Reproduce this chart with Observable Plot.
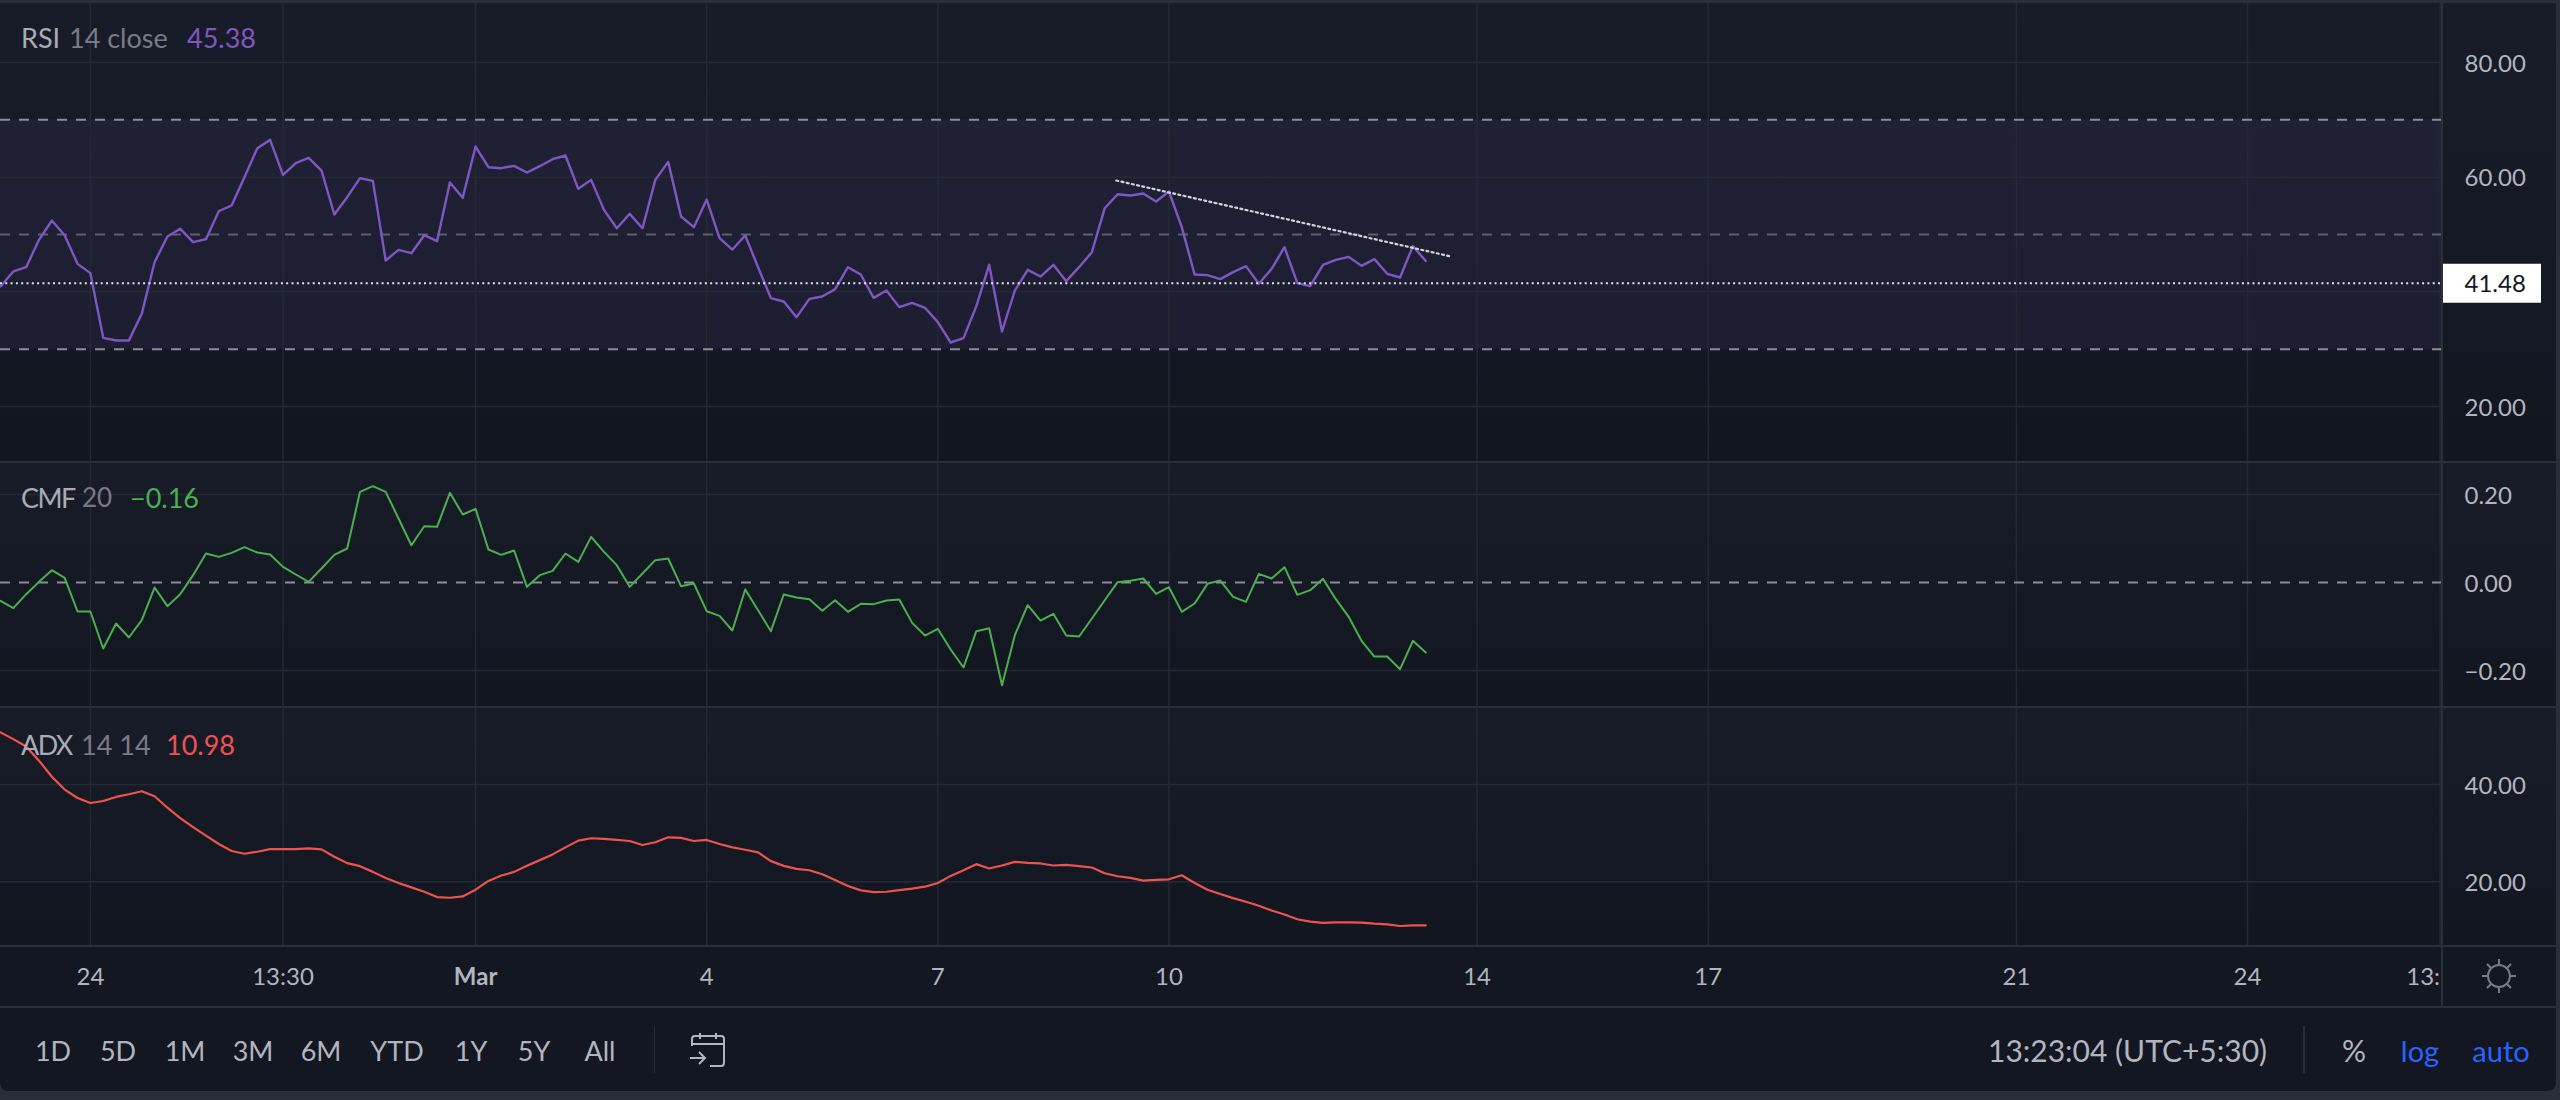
<!DOCTYPE html>
<html>
<head>
<meta charset="utf-8">
<script src="https://cdn.jsdelivr.net/npm/d3@7"></script>
<script src="https://cdn.jsdelivr.net/npm/@observablehq/plot@0.6"></script>
<style>
  html,body{margin:0;padding:0;background:#2a2e39;}
  #frame{position:relative;width:2560px;height:1100px;overflow:hidden;font-family:Lato,sans-serif;}
  #frame svg.pane{position:absolute;left:0;display:block;}
  .t{position:absolute;white-space:pre;line-height:1;transform:translateY(-50%);}
  .box{position:absolute;}
</style>
</head>
<body>
<div id="frame"></div>
<script>
const rsiValues = [40.93,43.55,44.30,49.07,52.44,49.83,44.88,43.26,31.98,31.51,31.51,36.16,45.17,49.65,50.99,48.66,49.19,54.07,55.06,60.00,65.06,66.51,60.41,62.44,63.37,61.16,53.49,56.51,59.83,59.36,45.47,47.33,46.74,49.88,48.84,59.07,56.40,65.35,61.74,61.57,61.98,60.81,61.92,63.14,63.78,57.97,59.53,54.30,51.10,53.60,51.10,59.53,62.67,53.14,51.28,56.10,49.36,47.38,49.83,44.30,38.90,38.31,35.58,38.78,39.19,40.47,44.30,43.02,38.95,40.23,37.33,38.08,37.21,34.71,31.16,31.92,37.50,44.71,33.08,40.23,43.84,42.67,44.71,41.86,44.30,46.92,54.59,57.03,56.80,57.15,55.76,57.50,51.28,43.02,42.91,42.21,43.43,44.48,41.40,44.01,47.79,41.51,40.99,44.71,45.58,46.10,44.53,45.70,43.14,42.50,47.97,45.38];
const cmfValues = [-0.0417,-0.0583,-0.0265,0.0015,0.028,0.0106,-0.0659,-0.0659,-0.15,-0.0932,-0.125,-0.0856,-0.0114,-0.0538,-0.0265,0.0167,0.0659,0.0583,0.0674,0.0803,0.0682,0.0636,0.0356,0.0182,0.0015,0.0318,0.0629,0.0773,0.2061,0.2189,0.2061,0.1455,0.0848,0.128,0.1265,0.2038,0.1545,0.1674,0.075,0.0629,0.0727,-0.0098,0.0167,0.0265,0.0659,0.047,0.1038,0.0697,0.0394,-0.0098,0.0205,0.0508,0.0545,-0.0083,-0.0023,-0.0652,-0.0758,-0.1091,-0.0159,-0.0629,-0.1106,-0.0273,-0.0341,-0.0379,-0.0644,-0.0402,-0.0667,-0.0485,-0.0492,-0.0409,-0.0386,-0.0917,-0.1205,-0.1053,-0.1523,-0.1932,-0.1106,-0.1038,-0.2333,-0.1197,-0.0515,-0.0864,-0.0712,-0.1205,-0.1227,-0.0818,-0.0402,0.0008,0.0038,0.0091,-0.0258,-0.0106,-0.0667,-0.0477,-0.003,0.0045,-0.0326,-0.0439,0.0197,0.0091,0.0348,-0.028,-0.0174,0.0083,-0.0379,-0.078,-0.1326,-0.1682,-0.1682,-0.197,-0.1326,-0.1591];
const adxValues = [50.73,49.34,47.82,44.91,41.59,38.96,37.23,36.19,36.61,37.44,37.99,38.62,37.58,35.22,33.08,31.21,29.48,27.75,26.30,25.74,26.16,26.71,26.71,26.71,26.85,26.64,25.12,23.81,23.18,22.01,20.76,19.72,18.82,17.92,16.82,16.68,16.96,18.34,20.14,21.25,22.01,23.25,24.43,25.61,27.06,28.44,28.93,28.79,28.58,28.37,27.54,28.10,29.13,29.00,28.37,28.58,27.75,27.06,26.57,26.02,24.22,23.25,22.63,22.35,21.52,20.35,19.10,18.20,17.85,17.92,18.27,18.55,18.96,19.72,21.18,22.35,23.60,22.70,23.32,24.08,23.88,23.74,23.32,23.46,23.18,22.91,21.73,21.11,20.76,20.21,20.35,20.48,21.31,19.72,18.34,17.44,16.61,15.85,15.02,14.05,13.22,12.25,11.76,11.49,11.63,11.63,11.56,11.35,11.21,10.87,11.00,10.98];

const trendBars = [86.9, 112.85];
const trendRsi = [59.42, 46.22];
const lastRsi = 41.48;

const rsiGrid = [80, 60, 40, 20];
const rsiLabels = [80, 60, 20];
const rsiLevels = [70, 50, 30];
const cmfGrid = [0.2, -0.2];
const cmfLabels = [0.2, 0, -0.2];
const adxGrid = [40, 20];

const timeTicks = [7, 22, 37, 55, 73, 91, 115, 133, 157, 175, 190];
const timeLabels = ["24", "13:30", "Mar", "4", "7", "10", "14", "17", "21", "24", "13:"];
const rangeButtons = ["1D", "5D", "1M", "3M", "6M", "YTD", "1Y", "5Y", "All"];
const rangeCenters = [53, 118, 185, 253, 321, 397, 471, 534, 600];

const GRID = "#252934", TEXT = "#b2b5be", DIM = "#787b86", LEVEL = "#8b8d97";
const barWidth = 12.84, plotW = 2442, W = 2560;
const xDomain = [0, plotW / barWidth];
const px = p => p / barWidth;
const fmt = d3.format(".2f");
const frame = document.getElementById("frame");

function pane(top, height, yDomain, marks) {
  const svg = Plot.plot({
    width: W, height,
    marginLeft: 0, marginRight: W - plotW, marginTop: 0, marginBottom: 0,
    x: {domain: xDomain, axis: null},
    y: {domain: yDomain, axis: null},
    style: {background: "linear-gradient(#181c28,#12161f)", color: TEXT, fontFamily: "Lato, sans-serif", fontSize: "24px", position: "absolute", left: "0", top: top + "px", maxWidth: "none"},
    marks
  });
  svg.classList.add("pane");
  frame.appendChild(svg);
}
const grids = ys => [
  Plot.gridX(timeTicks, {stroke: GRID, strokeOpacity: 1, strokeWidth: 1.5}),
  Plot.gridY(ys, {stroke: GRID, strokeOpacity: 1, strokeWidth: 1.5})
];
const yAxis = (ticks) => Plot.axisY(ticks, {anchor: "right", label: null, tickSize: 0, tickPadding: 22, tickFormat: fmt, fill: TEXT, fontSize: 24, dy: 1.5});

pane(3, 458, [10.4, 90.3], [
  Plot.rect([{a: rsiLevels[2], b: rsiLevels[0]}], {x1: 0, x2: 190, y1: "a", y2: "b", fill: "#7e57c2", fillOpacity: 0.1}),
  ...grids(rsiGrid),
  Plot.ruleY([rsiLevels[0], rsiLevels[2]], {stroke: LEVEL, strokeWidth: 2, strokeDasharray: "10 9"}),
  Plot.ruleY([rsiLevels[1]], {stroke: "#5e5f6e", strokeWidth: 2, strokeDasharray: "10 9"}),
  Plot.lineY(rsiValues, {stroke: "#7e57c2", strokeWidth: 2.4}),
  Plot.ruleY([lastRsi], {stroke: "#e4e4ea", strokeWidth: 2, strokeDasharray: "2 3.3"}),
  Plot.line(trendBars.map((x, i) => ({x, y: trendRsi[i]})), {x: "x", y: "y", stroke: "#d4d4dc", strokeWidth: 2.2, strokeDasharray: "2 3.3"}),
  yAxis(rsiLabels),
  Plot.ruleY([lastRsi], {x1: px(plotW), x2: px(2541), stroke: "#ffffff", strokeWidth: 39}),
  Plot.text([lastRsi], {x: px(2464), y: d => d, text: fmt, textAnchor: "start", fill: "#131722", fontSize: 24, dy: 1})
]);

pane(463, 243, [-0.2818, 0.2705], [
  ...grids(cmfGrid),
  Plot.ruleY([0], {stroke: LEVEL, strokeWidth: 2, strokeDasharray: "10 9"}),
  Plot.lineY(cmfValues, {stroke: "#4caf50", strokeWidth: 2}),
  yAxis(cmfLabels)
]);

pane(708, 237, [6.85, 55.65], [
  ...grids(adxGrid),
  Plot.lineY(adxValues, {stroke: "#ef5350", strokeWidth: 2.2}),
  yAxis(adxGrid)
]);

const timeLabel = d => timeLabels[timeTicks.indexOf(d)];
const timeSvg = Plot.plot({
  width: plotW, height: 59,
  marginLeft: 0, marginRight: 0, marginTop: 0, marginBottom: 59,
  x: {domain: xDomain, axis: null},
  style: {background: "#131722", color: TEXT, fontFamily: "Lato, sans-serif", fontSize: "24px", position: "absolute", left: "0", top: "947px", maxWidth: "none"},
  marks: [
    Plot.axisX(timeTicks.filter((d, i) => !["Mar", "13:"].includes(timeLabels[i])), {anchor: "bottom", label: null, tickSize: 0, tickPadding: 20, tickFormat: timeLabel, fill: TEXT}),
    Plot.axisX(timeTicks.filter((d, i) => timeLabels[i] === "Mar"), {anchor: "bottom", label: null, tickSize: 0, tickPadding: 20, tickFormat: timeLabel, fill: TEXT, fontWeight: "bold"}),
    Plot.axisX(timeTicks.filter((d, i) => timeLabels[i] === "13:"), {anchor: "bottom", label: null, tickSize: 0, tickPadding: 20, tickFormat: timeLabel, fill: TEXT, textAnchor: "end"})
  ]
});
timeSvg.classList.add("pane");
frame.appendChild(timeSvg);

function box(x, y, w, h, bg, extra) {
  const d = document.createElement("div");
  d.className = "box";
  d.style.cssText = `left:${x}px;top:${y}px;width:${w}px;height:${h}px;background:${bg};${extra || ""}`;
  frame.appendChild(d);
  return d;
}
function text(s, x, y, color, size, align, extra) {
  const d = document.createElement("div");
  d.className = "t";
  d.textContent = s;
  d.style.cssText = `left:${x}px;top:${y}px;color:${color};font-size:${size}px;` +
    (align === "center" ? "transform:translate(-50%,-50%);" : "") + (extra || "");
  frame.appendChild(d);
}

box(0, 0, W, 3, "#2a2e39");
box(2556, 0, 4, 1100, "#2a2e39");
box(plotW, 947, 114, 59, "#131722");
box(0, 1007.5, 2556, 83.5, "#131722", "border-bottom-left-radius:8px;border-bottom-right-radius:8px;");
box(plotW - 1, 0, 2, 1006, "#2a2e39");

const squeeze = "letter-spacing:-1.6px;";
text("RSI", 21, 36.5, "#a9acb5", 27);
text("14 close", 69, 36.5, DIM, 27);
text("45.38", 187, 36.5, "#7e57c2", 27);
text("CMF", 21, 496.5, "#a9acb5", 27, null, squeeze);
text("20", 82, 496.5, DIM, 26);
text("\u22120.16", 130, 496.5, "#4caf50", 27);
text("ADX", 21, 743.5, "#a9acb5", 27, null, squeeze);
text("14 14", 81, 743.5, DIM, 27);
text("10.98", 166, 743.5, "#ef5350", 27);

rangeButtons.forEach((b, i) => text(b, rangeCenters[i], 1050, TEXT, 27, "center"));
box(653.5, 1026, 1.5, 47, "#2a2e39");
box(2303, 1026, 1.5, 47, "#2a2e39");
text("13:23:04 (UTC+5:30)", 1988, 1050, TEXT, 30);
text("%", 2354, 1050, TEXT, 30, "center");
text("log", 2420, 1050, "#2962ff", 29, "center");
text("auto", 2501, 1050, "#2962ff", 29, "center");

const icons = document.createElement("div");
icons.innerHTML = `
<svg style="position:absolute;left:688px;top:1031px" width="40" height="37" viewBox="0 0 40 37" fill="none" stroke="${TEXT}" stroke-width="2">
  <path d="M4 15V8a3 3 0 0 1 3-3h26a3 3 0 0 1 3 3v24a3 3 0 0 1-3 3h-11"/>
  <path d="M4 13h32M12 2v6M28 2v6"/><path d="M2 27h15M11 21l6 6-6 6"/>
</svg>
<svg style="position:absolute;left:2479px;top:956px" width="40" height="40" viewBox="0 0 40 40" fill="none" stroke="${DIM}" stroke-width="2">
  <circle cx="20" cy="20" r="11"/>
  <path d="M20 9V3M20 31v6M9 20H3M31 20h6M12 12 8 8M28 12l4-4M12 28l-4 4M28 28l4 4"/>
</svg>`;
frame.appendChild(icons);
</script>
</body>
</html>
